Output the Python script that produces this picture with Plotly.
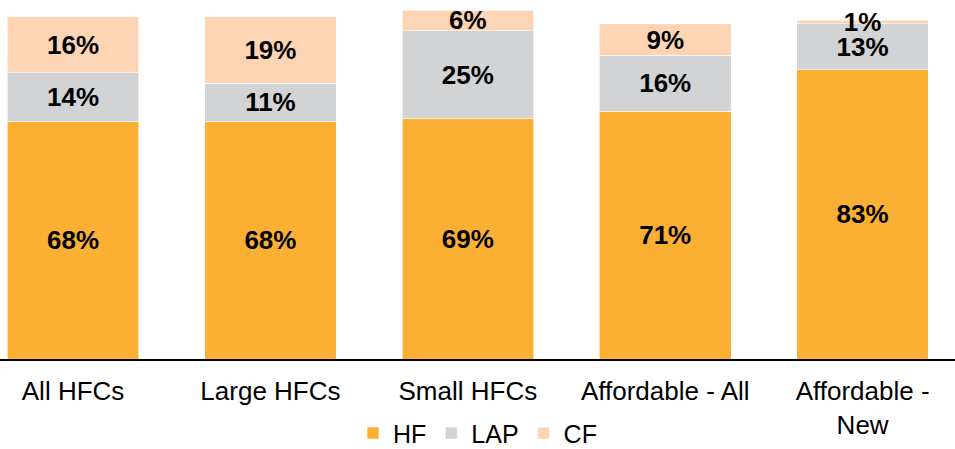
import plotly.graph_objects as go

categories = ["All HFCs", "Large HFCs", "Small HFCs", "Affordable - All", "Affordable -<br>New"]
hf = [68, 68, 69, 71, 83]
lap = [14, 11, 25, 16, 13]
cf = [16, 19, 6, 9, 1]

series = [("HF", hf, "#FBB034"), ("LAP", lap, "#D1D3D4"), ("CF", cf, "#FDD5B4")]

fig = go.Figure()
for name, vals, color in series:
    fig.add_trace(go.Bar(
        x=categories, y=vals, name=name,
        marker=dict(color=color, line=dict(color="rgba(255,255,255,0.6)", width=1)),
        text=[f"{v}%" for v in vals],
        texttemplate="<b>%{text}</b>",
        textposition="inside",
        insidetextanchor="middle",
        textangle=0,
        textfont=dict(family="Liberation Sans, Arial", size=26, color="#000"),
        constraintext="none",
        cliponaxis=False,
    ))

fig.update_layout(
    barmode="stack",
    bargap=0.333,
    width=955, height=449,
    margin=dict(l=0, r=0, t=10, b=90, autoexpand=False),
    paper_bgcolor="white", plot_bgcolor="white",
    font=dict(family="Liberation Sans, Arial", color="#000", size=26),
    uniformtext=dict(minsize=26, mode="show"),
    showlegend=True,
    legend=dict(orientation="h", x=0.5, xanchor="center", y=-0.213, yanchor="middle",
                font=dict(size=25), itemwidth=30, traceorder="normal",
                bgcolor="rgba(0,0,0,0)"),
    xaxis=dict(range=[-0.37, 4.468], showline=True, linecolor="#000", linewidth=1.5,
               ticks="", ticklabelstandoff=8, automargin=False,
               tickfont=dict(size=26, color="#000"), showgrid=False, zeroline=False),
    yaxis=dict(range=[0, 100], visible=False, showgrid=False, zeroline=False, automargin=False),
)

fig.write_html("out.html",
               config={"displayModeBar": False},
               post_script="document.body.style.margin='0';document.body.style.overflow='hidden';")
